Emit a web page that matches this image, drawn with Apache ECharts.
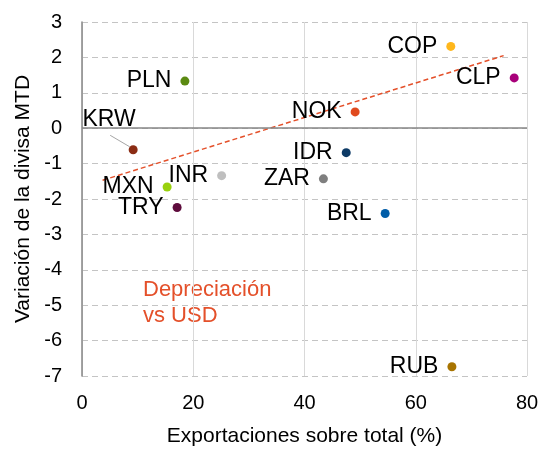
<!DOCTYPE html>
<html>
<head>
<meta charset="utf-8">
<script src="https://cdn.jsdelivr.net/npm/echarts@6/dist/echarts.min.js"></script>
<style>
html,body{margin:0;padding:0;background:#fff;}
#chart{width:542px;height:452px;}
</style>
</head>
<body>
<div id="chart"></div>
<script>
const currencies = ['PLN','KRW','INR','MXN','TRY','COP','CLP','NOK','IDR','ZAR','BRL','RUB'];
const exportsShare = [18.5, 9.2, 25.1, 15.3, 17.1, 66.3, 77.7, 49.1, 47.5, 43.4, 54.5, 66.5];
const fxChange = [1.33, -0.61, -1.34, -1.66, -2.24, 2.31, 1.42, 0.46, -0.69, -1.43, -2.41, -6.74];
const dotColors = ['#5B8A12','#8B2C14','#BFBFBF','#99D10E','#5E0B3C','#FFB71C','#A8007A','#E04A1E','#0D3A66','#7F7F7F','#005DA8','#A87400'];
const trendX = [3.7, 75.8];
const trendY = [-1.47, 2.05];
const xTicks = [0, 20, 40, 60, 80];
const yTicks = [-7, -6, -5, -4, -3, -2, -1, 0, 1, 2, 3];

const FONT = "'Liberation Sans', Arial, sans-serif";
const chart = echarts.init(document.getElementById('chart'));

const scatterData = currencies.map((c, i) => ({
  name: c,
  value: [exportsShare[i], fxChange[i]],
  itemStyle: { color: dotColors[i], opacity: 1 }
}));

const annotation = {
  type: 'text',
  left: 143, top: 277,
  style: {
    text: 'Depreciación\nvs USD',
    fontFamily: FONT, fontSize: 22, lineHeight: 26,
    fill: '#E4502A'
  }
};

chart.setOption({
  animation: false,
  backgroundColor: '#fff',
  grid: { left: 82, right: 15, top: 22, bottom: 74, containLabel: false },
  xAxis: {
    type: 'value',
    min: xTicks[0], max: xTicks[xTicks.length - 1], interval: 20,
    name: 'Exportaciones sobre total (%)',
    nameLocation: 'middle', nameGap: 50,
    nameTextStyle: { fontFamily: FONT, fontSize: 21, color: '#000' },
    axisLine: { show: false, onZero: false },
    axisTick: { show: false },
    axisLabel: { fontFamily: FONT, fontSize: 20, color: '#000', margin: 17 },
    splitLine: { show: true, lineStyle: { color: '#D9D9D9', width: 1, type: 'solid' } }
  },
  yAxis: {
    type: 'value',
    min: yTicks[0], max: yTicks[yTicks.length - 1], interval: 1,
    name: 'Variación de la divisa MTD',
    nameLocation: 'middle', nameGap: 44, nameRotate: 90,
    nameTextStyle: { fontFamily: FONT, fontSize: 21, color: '#000' },
    axisLine: { show: true, onZero: false, lineStyle: { color: '#868686', width: 1.5 } },
    axisTick: { show: false },
    axisLabel: { fontFamily: FONT, fontSize: 20, color: '#000', margin: 20 },
    splitLine: { show: true, lineStyle: { color: '#C4C4C4', width: 1, type: [6, 4] } }
  },
  graphic: [annotation],
  series: [
    {
      type: 'line',
      data: trendX.map((x, i) => [x, trendY[i]]),
      symbol: 'none',
      lineStyle: { color: '#E4502A', width: 1.5, type: [5, 3] },
      silent: true,
      z: 3
    },
    {
      type: 'scatter',
      data: scatterData,
      symbolSize: 9,
      z: 4,
      itemStyle: { opacity: 1 },
      label: {
        show: true, position: 'left', distance: 9,
        formatter: p => p.name,
        fontFamily: FONT, fontSize: 23, color: '#000'
      },
      labelLayout: function (params) {
        if (currencies[params.dataIndex] === 'KRW') {
          return { dx: 16, dy: -30 };
        }
        return {};
      },
      markLine: {
        silent: true,
        symbol: 'none',
        label: { show: false },
        lineStyle: { color: '#868686', width: 1.5, type: 'solid' },
        data: [{ yAxis: 0 }]
      }
    }
  ]
});

// leader line for the KRW label, anchored to the KRW point's pixel position
const k = currencies.indexOf('KRW');
const p = chart.convertToPixel({ seriesIndex: 1 }, [exportsShare[k], fxChange[k]]);
chart.setOption({
  graphic: [annotation, {
    type: 'line',
    shape: { x1: p[0] - 23, y1: p[1] - 14.5, x2: p[0] - 3.5, y2: p[1] - 3 },
    style: { stroke: '#A6A6A6', lineWidth: 1 },
    z: 5
  }]
});
</script>
</body>
</html>
